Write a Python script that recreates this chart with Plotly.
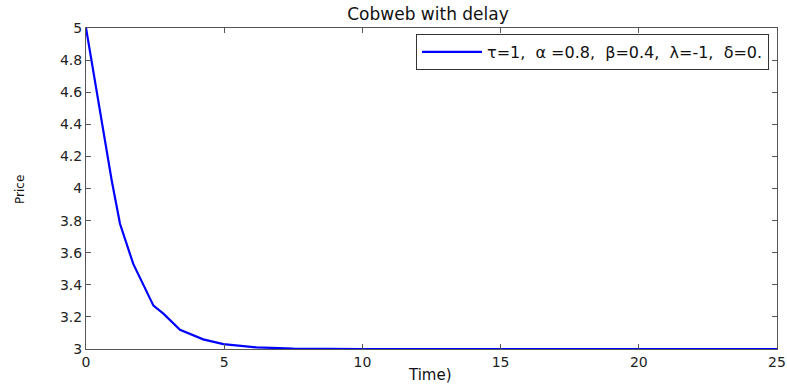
import plotly.graph_objects as go

time = [0, 0.5, 0.93, 1.23, 1.71, 2.44, 2.8, 3.4, 4.24, 4.97, 6.17, 7.5, 10, 15, 20, 25]
price = [5.0, 4.5, 4.05, 3.78, 3.53, 3.27, 3.22, 3.12, 3.06, 3.03, 3.01, 3.003, 3.0, 3.0, 3.0, 3.0]

x_ticks = [0, 5, 10, 15, 20, 25]
y_ticks = [3, 3.2, 3.4, 3.6, 3.8, 4, 4.2, 4.4, 4.6, 4.8, 5]

font = "DejaVu Sans, Arial, sans-serif"
axis_col = "#555555"
W, H = 787, 385
L, R, T, B = 86, 10, 28, 36

fig = go.Figure()
fig.add_trace(go.Scatter(
    x=time, y=price, mode="lines",
    line=dict(color="#0000FF", width=2.2),
    name="τ=1,  α =0.8,  β=0.4,  λ=-1,  δ=0.",
))

axis_common = dict(
    showgrid=False, zeroline=False, showline=True, linecolor=axis_col, linewidth=1,
    mirror="ticks", ticks="inside", ticklen=5, tickcolor=axis_col, automargin=False,
    tickfont=dict(family=font, size=14, color="#222222"),
)

pw = W - L - R
ph = H - T - B

fig.update_layout(
    width=W, height=H,
    margin=dict(l=L, r=R, t=T, b=B, autoexpand=False),
    paper_bgcolor="white", plot_bgcolor="white",
    title=dict(text="Cobweb with delay", x=428 / W, xanchor="center",
               y=1 - 14 / H, yanchor="middle",
               font=dict(family=font, size=17, color="#111111")),
    xaxis=dict(range=[0, 25], tickvals=x_ticks, **axis_common),
    yaxis=dict(range=[3, 5], tickvals=y_ticks, ticktext=[f"{v:g}" for v in y_ticks],
               **axis_common),
    showlegend=True,
    legend=dict(x=(769 - L) / pw, xanchor="right", y=(H - B - 34) / ph, yanchor="top",
                bgcolor="white", bordercolor="#333333", borderwidth=1,
                font=dict(family=font, size=16, color="#111111"),
                itemwidth=60, tracegroupgap=0),
    annotations=[
        dict(text="Time)", xref="paper", yref="paper", x=(430 - L) / pw, y=-(375 - (H - B)) / ph,
             xanchor="center", yanchor="middle", showarrow=False,
             font=dict(family=font, size=15, color="#111111")),
        dict(text="Price", xref="paper", yref="paper", x=-(L - 20) / pw, y=(H - B - 190) / ph,
             xanchor="center", yanchor="middle", showarrow=False, textangle=-90,
             font=dict(family=font, size=12, color="#111111")),
    ],
)

fig.write_html("out.html")
